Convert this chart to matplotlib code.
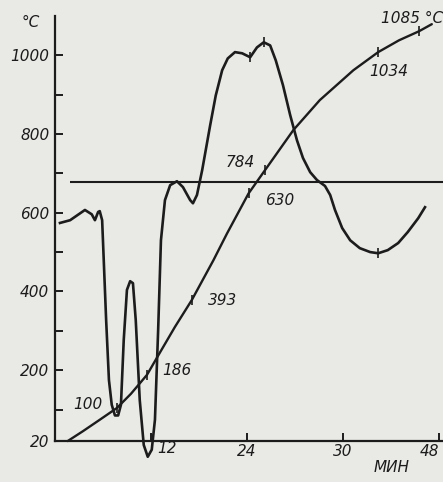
import matplotlib.pyplot as plt

# heating curve (furnace temperature, deg C vs time, min)
heat_t = [1.6, 3.5, 5.6, 7.75, 9.5, 11.5, 13.1, 15.0, 17.1, 19.8, 21.5, 24.2,
          26.25, 29.8, 33.1, 37.3, 40.4, 43.0, 45.5, 47.1]
heat_T = [20, 45, 74, 104, 140, 188, 244, 310, 378, 479, 547, 649,
          708, 810, 886, 962, 1008, 1038, 1061, 1079]

# marked points on the heating curve and their labels
mark_t = [7.75, 11.5, 17.1, 24.2, 26.25, 40.4, 45.5]
mark_T = [104, 188, 378, 649, 708, 1008, 1061]
mark_lbl = ['100', '186', '393', '630', '784', '1034', '1085 °C']
lbl_t = [4.1, 15.25, 20.9, 28.1, 23.1, 41.75, 44.6]
lbl_T = [113, 199, 378, 632, 727, 958, 1094]

# differential curve
dta_t = [0.63, 1.9, 3.75, 4.6, 5.0, 5.4, 5.6, 5.9, 6.1, 6.4, 6.75, 7.1, 7.5, 7.9,
         8.25, 8.6, 9.0, 9.4, 9.75, 10.1, 10.6, 11.1, 11.6, 12.1, 12.5, 12.9,
         13.25, 13.75, 14.4, 15.25, 16.0, 16.9, 17.25, 17.75, 18.4, 19.4, 20.1,
         20.9, 21.6, 22.5, 23.4, 24.4, 25.25, 26.1, 26.9, 27.6, 28.5, 29.4,
         30.25, 31.0, 31.9, 32.75, 33.75, 34.4, 35.0, 35.9, 36.9, 38.1, 39.4,
         40.4, 41.6, 42.9, 44.1, 45.4, 46.25]
dta_T = [574, 581, 607, 596, 581, 602, 604, 581, 480, 327, 175, 112, 85, 85,
         112, 277, 404, 426, 421, 327, 124, 10, -20, -2, 74, 302,
         530, 632, 670, 680, 665, 632, 624, 645, 708, 822, 898,
         962, 992, 1008, 1005, 995, 1020, 1033, 1025, 987, 924, 848,
         784, 739, 703, 683, 668, 645, 607, 561, 530, 510, 500,
         497, 505, 523, 551, 586, 614]
dta_mark_t = [24.4, 26.1, 40.4]
dta_mark_T = [995, 1033, 497]

ref_T = 678  # horizontal reference line

yticks = [20, 200, 400, 600, 800, 1000]
yminor = [100, 300, 500, 700, 900]
xticks = [12, 24, 36, 48]
xlabels = ['', '24', '30', '48']

ink = '#1c1c1c'
bg = '#e9e9e6'
font = dict(family='DejaVu Sans', style='italic', size=11, color=ink)

fig = plt.figure(figsize=(4.43, 4.82), dpi=100, facecolor=bg)
ax = fig.add_axes([0.124, 0.036, 0.876, 0.931])
ax.set_facecolor(bg)

ax.plot(heat_t, heat_T, color=ink, lw=1.7, solid_capstyle='round',
        solid_joinstyle='round')
ax.plot(mark_t, mark_T, ls='none', marker='|', ms=7, mew=1.2, color=ink)
ax.plot(dta_t, dta_T, color=ink, lw=1.9, solid_joinstyle='round', clip_on=False)
ax.plot(dta_mark_t, dta_mark_T, ls='none', marker='|', ms=7, mew=1.2, color=ink)
ax.hlines(ref_T, 1.9, 48.5, color=ink, lw=1.5)

for s, t, T in zip(mark_lbl, lbl_t, lbl_T):
    ax.text(t, T, s, ha='center', va='center', clip_on=False, **font)

ax.set_xlim(0, 48.5)
ax.set_ylim(-40, 1100)
for side in ['top', 'right']:
    ax.spines[side].set_visible(False)
ax.spines['bottom'].set_position(('data', 20))
ax.spines['left'].set_bounds(20, 1100)
for side in ['bottom', 'left']:
    ax.spines[side].set_linewidth(1.6)
    ax.spines[side].set_color(ink)

ax.set_yticks(yticks)
ax.set_yticks(yminor, minor=True)
ax.set_yticklabels([str(v) for v in yticks], fontdict=font)
ax.set_xticks(xticks)
ax.set_xticklabels(xlabels, fontdict=font)
ax.get_xticklabels()[-1].set_horizontalalignment('right')
ax.tick_params(axis='both', which='both', direction='in', length=6, width=1.4,
               color=ink, pad=4)
ax.tick_params(axis='x', pad=2)

ax.text(14.0, 20, '12', ha='center', va='top', **font, clip_on=False)
ax.text(-3.0, 1084, '°C', ha='center', va='center', clip_on=False, **font)
ax.text(42.1, -46, 'МИН', ha='center', va='center', clip_on=False, **font)

fig.savefig('out.png', dpi=100, facecolor=bg)
